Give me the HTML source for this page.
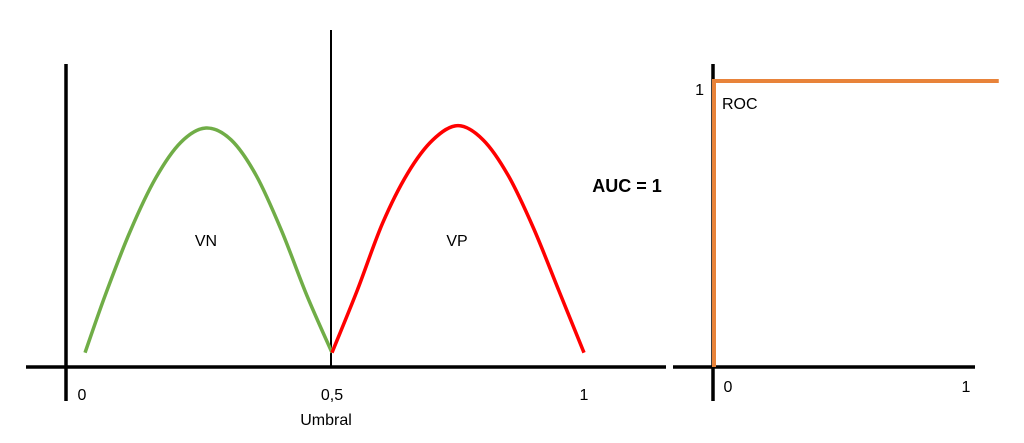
<!DOCTYPE html>
<html><head><meta charset="utf-8"><style>
html,body{margin:0;padding:0;background:#fff;}
svg{display:block;font-family:"Liberation Sans",sans-serif;}
</style></head><body>
<svg id="chart" width="1024" height="443" viewBox="0 0 1024 443">
  <g>
    <line x1="66" y1="64" x2="66" y2="401" stroke="#000" stroke-width="3.5"/>
    <line x1="26" y1="367" x2="666" y2="367" stroke="#000" stroke-width="3.5"/>
    <line x1="331" y1="30" x2="331" y2="367" stroke="#000" stroke-width="2"/>
    <g id="curves"></g>
    <text x="206" y="246" font-size="16" text-anchor="middle">VN</text>
    <text x="457" y="246" font-size="16" text-anchor="middle">VP</text>
    <g id="lticks"></g>
    <text x="326" y="425" font-size="16" text-anchor="middle">Umbral</text>
  </g>
  <text x="627" y="192" font-size="18" font-weight="bold" text-anchor="middle">AUC = 1</text>
  <g>
    <line x1="713" y1="64" x2="713" y2="401" stroke="#000" stroke-width="3.5"/>
    <line x1="673" y1="367" x2="975" y2="367" stroke="#000" stroke-width="3.5"/>
    <g id="roc"></g>
    <text x="722" y="109" font-size="16">ROC</text>
    <g id="rticks"></g>
  </g>
</svg>
<script>
const greenX=[0.01,0.05,0.10,0.15,0.20,0.25,0.30,0.35,0.40,0.45,0.50];
const greenY=[0.06,0.30,0.57,0.79,0.94,1.00,0.95,0.80,0.57,0.30,0.06];
const redX=[0.50,0.55,0.60,0.65,0.70,0.75,0.80,0.85,0.90,0.95,1.00];
const redY=[0.06,0.32,0.60,0.81,0.95,1.01,0.95,0.80,0.58,0.32,0.06];
const leftTickVals=[0,0.5,1];
const leftTickLabels=["0","0,5","1"];
const rocFPR=[0,0,1.13];
const rocTPR=[0,1,1];
const rocXTicks=[0,1];
const rocXLabels=["0","1"];
const rocYTicks=[1];
const rocYLabels=["1"];

const NS="http://www.w3.org/2000/svg";
const lx=v=>80+v*504, ly=v=>367-v*239;
const rx=v=>714+v*252, ry=v=>367-v*286;
function smooth(xs,ys){
  const p=xs.map((x,i)=>[lx(x),ly(ys[i])]);
  let d="M"+p[0][0]+","+p[0][1];
  for(let i=0;i<p.length-1;i++){
    const p0=p[Math.max(0,i-1)],p1=p[i],p2=p[i+1],p3=p[Math.min(p.length-1,i+2)];
    const c1=[p1[0]+(p2[0]-p0[0])/6,p1[1]+(p2[1]-p0[1])/6];
    const c2=[p2[0]-(p3[0]-p1[0])/6,p2[1]-(p3[1]-p1[1])/6];
    d+=" C"+c1+" "+c2+" "+p2;
  }
  return d;
}
const cg=document.getElementById('curves');
const g1=document.createElementNS(NS,'path');
g1.setAttribute('d',smooth(greenX,greenY));g1.setAttribute('fill','none');g1.setAttribute('stroke','#70AD47');g1.setAttribute('stroke-width','3.5');


cg.appendChild(g1);
const r1=document.createElementNS(NS,'path');
r1.setAttribute('d',smooth(redX,redY));r1.setAttribute('fill','none');r1.setAttribute('stroke','#FF0000');r1.setAttribute('stroke-width','3.5');


cg.appendChild(r1);
const lt=document.getElementById('lticks');
leftTickVals.forEach((v,i)=>{
  const t=document.createElementNS(NS,'text');
  t.setAttribute('x',lx(v)+(i===0?2:0));t.setAttribute('y',400);t.setAttribute('font-size','16');t.setAttribute('text-anchor','middle');
  t.textContent=leftTickLabels[i];
  
  
  lt.appendChild(t);
});
const rg=document.getElementById('roc');
const pl=document.createElementNS(NS,'polyline');
pl.setAttribute('points',rocFPR.map((x,i)=>rx(x)+","+ry(rocTPR[i])).join(" "));
pl.setAttribute('fill','none');pl.setAttribute('stroke','#E8833A');pl.setAttribute('stroke-width','4');


rg.appendChild(pl);
const rt=document.getElementById('rticks');
rocXTicks.forEach((v,i)=>{
  const t=document.createElementNS(NS,'text');
  t.setAttribute('x',rx(v)+(i===0?14:0));t.setAttribute('y',392);t.setAttribute('font-size','16');t.setAttribute('text-anchor','middle');
  t.textContent=rocXLabels[i];
  
  
  rt.appendChild(t);
});
rocYTicks.forEach((v,i)=>{
  const t=document.createElementNS(NS,'text');
  t.setAttribute('x',704);t.setAttribute('y',ry(v)+14);t.setAttribute('font-size','16');t.setAttribute('text-anchor','end');
  t.textContent=rocYLabels[i];
  
  
  rt.appendChild(t);
});
</script>
</body></html>
